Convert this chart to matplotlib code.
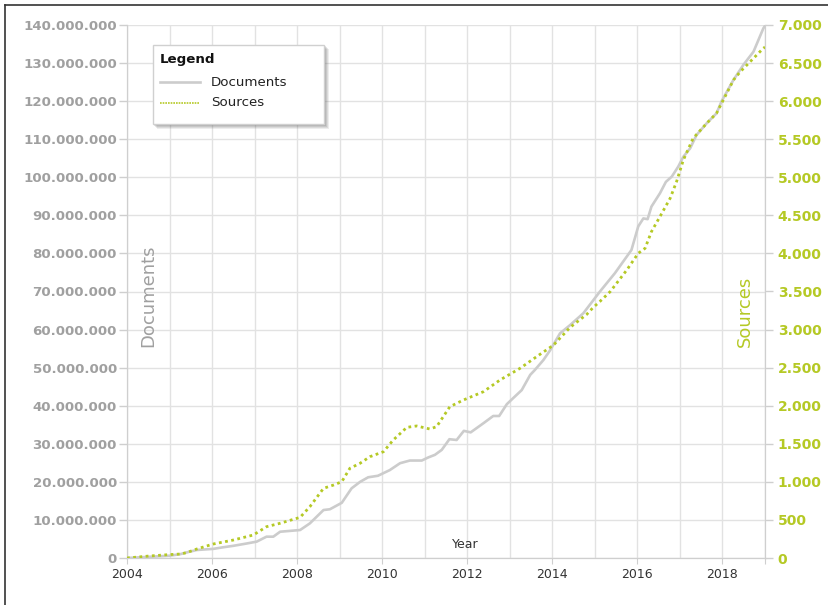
import matplotlib
matplotlib.use("Agg")
import matplotlib.pyplot as plt
from matplotlib.ticker import FuncFormatter, MultipleLocator
from matplotlib.lines import Line2D
from matplotlib.patches import Rectangle

doc_years = [2004.0, 2004.5, 2005.0, 2005.25, 2005.45, 2005.64, 2006.03, 2006.25, 2006.5, 2006.81,
             2007.05, 2007.28, 2007.44, 2007.6, 2008.07, 2008.3, 2008.62, 2008.77, 2009.05, 2009.28,
             2009.48, 2009.67, 2009.9, 2010.18, 2010.42, 2010.65, 2010.93, 2011.08, 2011.24, 2011.4,
             2011.58, 2011.75, 2011.92, 2012.08, 2012.38, 2012.61, 2012.75, 2012.93, 2013.08, 2013.28,
             2013.48, 2013.59, 2013.79, 2013.95, 2014.18, 2014.42, 2014.73, 2015.12, 2015.47, 2015.86,
             2016.02, 2016.14, 2016.24, 2016.33, 2016.53, 2016.67, 2016.81, 2016.96, 2017.08, 2017.24,
             2017.39, 2017.63, 2017.86, 2017.98, 2018.26, 2018.49, 2018.73, 2018.96, 2019.0]
doc_values = [0.0, 0.3, 0.6, 1.0, 1.6, 2.1, 2.4, 2.8, 3.2, 3.8,
              4.3, 5.6, 5.6, 6.9, 7.35, 9.1, 12.6, 12.8, 14.5, 18.3,
              20.0, 21.2, 21.6, 23.1, 24.9, 25.6, 25.6, 26.4, 27.1, 28.4,
              31.2, 31.0, 33.4, 33.0, 35.4, 37.3, 37.3, 40.4, 42.0, 44.1,
              48.1, 49.4, 52.0, 54.6, 59.0, 61.2, 64.3, 70.0, 74.8, 80.9,
              87.1, 89.2, 89.0, 92.3, 95.8, 98.8, 100.2, 102.8, 105.4, 107.6,
              111.1, 114.2, 116.8, 120.0, 125.6, 129.5, 133.0, 139.1, 139.8]  # millions

src_years = [2004.0, 2004.5, 2005.0, 2005.25, 2005.4, 2005.64, 2006.03, 2006.5, 2006.97, 2007.28,
             2007.6, 2008.07, 2008.3, 2008.62, 2008.86, 2009.05, 2009.24, 2009.48, 2009.71, 2010.03,
             2010.26, 2010.58, 2010.81, 2011.12, 2011.28, 2011.59, 2011.91, 2012.38, 2012.77, 2013.24,
             2013.63, 2014.03, 2014.42, 2014.81, 2014.96, 2015.12, 2015.36, 2015.75, 2016.02, 2016.18,
             2016.33, 2016.53, 2016.77, 2016.92, 2017.08, 2017.31, 2017.63, 2017.86, 2017.98, 2018.26,
             2018.42, 2018.73, 2018.96, 2019.0]
src_values = [0, 25, 45, 52, 70, 118, 184, 236, 302, 411,
              456, 534, 674, 915, 959, 1002, 1178, 1244, 1330, 1396,
              1550, 1716, 1734, 1694, 1725, 1987, 2075, 2184, 2338, 2491,
              2644, 2797, 3030, 3200, 3290, 3370, 3498, 3782, 4002, 4067,
              4286, 4483, 4724, 4942, 5227, 5512, 5709, 5841, 5972, 6278,
              6387, 6563, 6694, 6710]

x_ticks = [2004, 2006, 2008, 2010, 2012, 2014, 2016, 2018, 2019]
x_labels = ["2004", "2006", "2008", "2010", "2012", "2014", "2016", "2018", ""]
series_names = ["Documents", "Sources"]

DOC_COLOR = "#cccccc"
SRC_COLOR = "#b5c925"
LABEL_GRAY = "#a0a0a0"
SRC_DASH = (0, (1, 1.25))

plt.rcParams["font.family"] = ["DejaVu Sans"]

W, H = 829, 605
fig = plt.figure(figsize=(W / 100, H / 100), dpi=100)
ax = fig.add_axes([127/W, 47/H, 638/W, 533/H])
ax2 = ax.twinx()

docs_abs = [v * 1e6 for v in doc_values]
ax.plot(doc_years, docs_abs, color=DOC_COLOR, lw=1.9, solid_joinstyle="round", zorder=3)
ax2.plot(src_years, src_values, color=SRC_COLOR, lw=2.0, linestyle=SRC_DASH, zorder=3)

ax.set_xlim(2004, 2019)
ax.set_ylim(0, 140e6)
ax2.set_ylim(0, 7000)

def thousands(v, pos):
    return f"{int(round(v)):,}".replace(",", ".")

ax.yaxis.set_major_locator(MultipleLocator(10e6))
ax.yaxis.set_major_formatter(FuncFormatter(thousands))
ax2.yaxis.set_major_locator(MultipleLocator(500))
ax2.yaxis.set_major_formatter(FuncFormatter(thousands))

ax.set_xticks(x_ticks)
ax.set_xticklabels(x_labels)
ax.xaxis.set_minor_locator(MultipleLocator(1))

ax.grid(True, which="both", axis="x", color="#e2e2e2", lw=1)
ax.grid(True, which="major", axis="y", color="#e2e2e2", lw=1)
ax.set_axisbelow(True)

for a in (ax, ax2):
    for s in a.spines.values():
        s.set_color("#cfcfcf")
    a.spines["top"].set_visible(False)

ax.tick_params(axis="y", colors="#cfcfcf", length=5.8, width=1, labelcolor=LABEL_GRAY,
               labelsize=9.6, pad=1.5)
ax2.tick_params(axis="y", colors="#cfcfcf", length=5.8, width=1, labelcolor=SRC_COLOR,
                labelsize=10, pad=3.3)
ax.tick_params(axis="x", which="major", colors="#cfcfcf", length=4.5, labelcolor="#333333",
               labelsize=9, pad=2.5)
ax.tick_params(axis="x", which="minor", length=0)
for t in ax.get_yticklabels():
    t.set_fontweight("bold")
for t in ax2.get_yticklabels():
    t.set_fontweight("bold")

ax.text(0.033, 0.4916, "Documents", transform=ax.transAxes, rotation=90, ha="center", va="center",
        fontsize=13, color=LABEL_GRAY)
ax2.text(0.9687, 0.463, "Sources", transform=ax.transAxes, rotation=90, ha="center", va="center",
         fontsize=13, color=SRC_COLOR)
ax.text(0.53, 0.025, "Year", transform=ax.transAxes, ha="center", va="center",
        fontsize=9, color="#333333")

# manual legend box (pixel layout converted to figure fractions)
def fx(px):
    return px / W

def fy(py):
    return 1 - py / H

bx0, by0, bx1, by1 = 153, 45, 324, 124
for i, a in enumerate([0.10, 0.12, 0.14, 0.16]):
    off = 5 - i
    fig.add_artist(Rectangle((fx(bx0 + off - 1), fy(by1 + off)), fx(bx1 - bx0 + 1), (by1 - by0 + 1) / H,
                             transform=fig.transFigure, facecolor="#555555", edgecolor="none",
                             alpha=a, zorder=9))
fig.add_artist(Rectangle((fx(bx0), fy(by1)), fx(bx1 - bx0), (by1 - by0) / H,
                         transform=fig.transFigure, facecolor="white", edgecolor="#d0d0d0",
                         lw=1, zorder=10))
fig.text(fx(160), fy(60), "Legend", fontsize=9.6, fontweight="bold", color="#111111",
         ha="left", va="center", zorder=11)
fig.add_artist(Line2D([fx(160), fx(200)], [fy(82), fy(82)], color=DOC_COLOR, lw=1.9,
                      transform=fig.transFigure, zorder=11))
fig.add_artist(Line2D([fx(160), fx(200)], [fy(103), fy(103)], color=SRC_COLOR, lw=1.2,
                      linestyle=(0, (1, 0.6)), transform=fig.transFigure, zorder=11))
fig.text(fx(211), fy(82), series_names[0], fontsize=9.6, color="#222222", ha="left",
         va="center", zorder=11)
fig.text(fx(211), fy(103), series_names[1], fontsize=9.6, color="#222222", ha="left",
         va="center", zorder=11)

# figure border (top and left)
fig.add_artist(Line2D([fx(5), fx(5)], [0, fy(5)], color="#333333", lw=1.2,
                      transform=fig.transFigure))
fig.add_artist(Line2D([fx(5), 1], [fy(5), fy(5)], color="#333333", lw=1.2,
                      transform=fig.transFigure))

fig.savefig("out.png", dpi=100)
